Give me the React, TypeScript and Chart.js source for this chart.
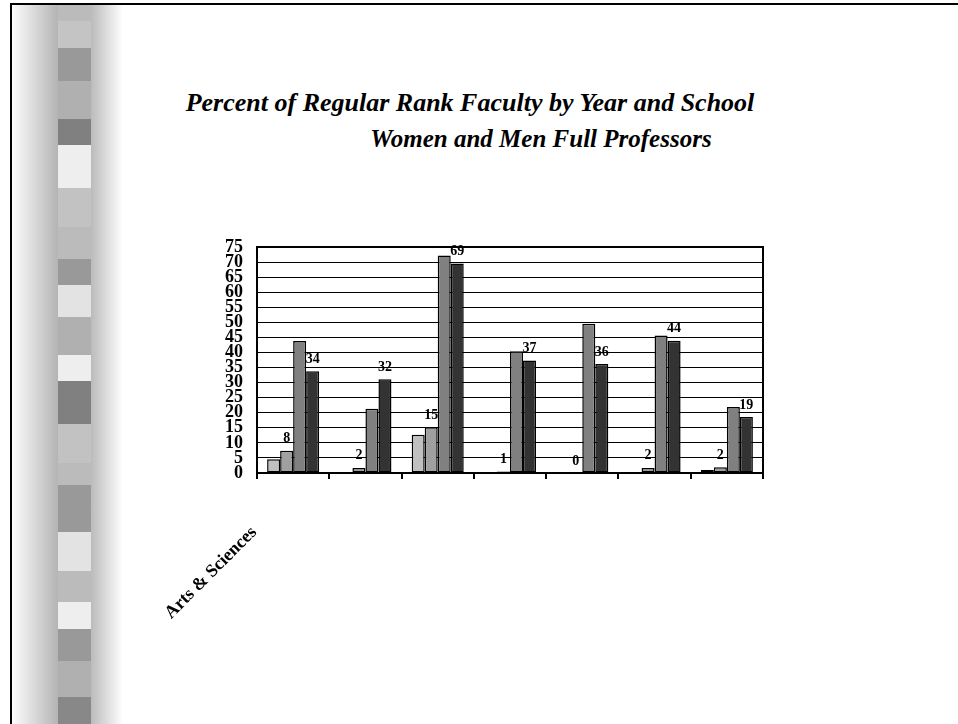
import React, { useEffect, useRef } from "react";
import { Chart, registerables } from "chart.js";

Chart.register(...registerables);

// ---- data ----
const categories = ["Arts & Sciences", "", "", "", "", "", ""];
const seriesNames = ["Series 1", "Series 2", "Series 3", "Series 4"];
const series1 = [4.6, 0, 12.7, 0, 0, 0, 1.0];
const series2 = [7.4, 1.7, 15.2, 0.5, 0, 1.7, 1.9];
const series3 = [43.8, 21.3, 72.2, 40.4, 49.5, 45.6, 21.9];
const series4 = [33.8, 31.1, 69.5, 37.3, 36.2, 43.9, 18.6];
const series2Labels = ["8", "2", "15", "1", "0", "2", "2"];
const series4Labels = ["34", "32", "69", "37", "36", "44", "19"];
const yMin = 0;
const yMax = 75;
const yStep = 5;

const titleText = "Percent of Regular Rank Faculty by Year and School";
const subtitleText = "Women and Men Full Professors";

// ---- decoration (left stripe blocks) ----
const stripeBlocks: [number, number, string][] = [
  [21, 48, "#c4c4c4"],
  [48, 81, "#999999"],
  [81, 119, "#b0b0b0"],
  [119, 145, "#808080"],
  [145, 188, "#eeeeee"],
  [188, 227, "#c2c2c2"],
  [227, 259, "#bbbbbb"],
  [259, 285, "#999999"],
  [285, 317, "#e3e3e3"],
  [317, 355, "#b0b0b0"],
  [355, 381, "#eeeeee"],
  [381, 424, "#808080"],
  [424, 463, "#c2c2c2"],
  [463, 485, "#bbbbbb"],
  [485, 532, "#999999"],
  [532, 571, "#e3e3e3"],
  [571, 602, "#bbbbbb"],
  [602, 629, "#eeeeee"],
  [629, 661, "#999999"],
  [661, 697, "#b0b0b0"],
  [697, 724, "#888888"],
];

const SERIF = "'Liberation Serif', 'Times New Roman', serif";

const valueLabelPlugin = {
  id: "valueLabels",
  afterDatasetsDraw(chart: any) {
    const ctx = chart.ctx;
    ctx.save();
    ctx.font = `bold 14px ${SERIF}`;
    ctx.fillStyle = "#000";
    ctx.textAlign = "center";
    ctx.textBaseline = "bottom";
    const sets: [number, string[]][] = [
      [1, series2Labels],
      [3, series4Labels],
    ];
    sets.forEach(([di, labels]) => {
      const meta = chart.getDatasetMeta(di);
      meta.data.forEach((el: any, i: number) => {
        ctx.fillText(labels[i], el.x, el.y - 5);
      });
    });
    ctx.restore();
  },
};

const plotFramePlugin = {
  id: "plotFrame",
  afterDatasetsDraw(chart: any) {
    const { ctx, chartArea } = chart;
    ctx.save();
    ctx.strokeStyle = "#000";
    ctx.lineWidth = 2;
    ctx.beginPath();
    ctx.moveTo(chartArea.left, chartArea.top);
    ctx.lineTo(chartArea.right, chartArea.top);
    ctx.lineTo(chartArea.right, chartArea.bottom);
    ctx.stroke();
    ctx.restore();
  },
};

export default function App() {
  const canvasRef = useRef<HTMLCanvasElement | null>(null);

  useEffect(() => {
    if (!canvasRef.current) return;
    const colors = ["#c0c0c0", "#a0a0a0", "#808080", "#333333"];
    const values = [series1, series2, series3, series4];
    const chart = new Chart(canvasRef.current, {
      type: "bar",
      data: {
        labels: categories,
        datasets: values.map((v, i) => ({
          label: seriesNames[i],
          data: v,
          backgroundColor: colors[i],
          borderColor: "#000",
          borderWidth: 1.5,
          borderSkipped: false,
          barPercentage: 1,
          categoryPercentage: 0.72,
        })),
      },
      options: {
        responsive: false,
        maintainAspectRatio: false,
        animation: false,
        layout: { padding: { left: 197, right: 195, top: 247, bottom: 81 } },
        plugins: {
          legend: { display: false },
          title: { display: false },
          tooltip: { enabled: false },
        },
        scales: {
          x: {
            type: "category",
            offset: true,
            grid: {
              display: true,
              offset: true,
              drawOnChartArea: false,
              drawTicks: true,
              tickLength: 6,
              color: "#000",
              lineWidth: 2,
            },
            border: { display: true, color: "#000", width: 2 },
            ticks: {
              autoSkip: false,
              maxRotation: 45,
              minRotation: 45,
              labelOffset: -39,
              padding: 43,
              color: "#000",
              font: { family: SERIF, size: 18, weight: "bold" },
            },
            afterFit: (scale: any) => {
              scale.height = 170;
            },
          },
          y: {
            min: yMin,
            max: yMax,
            grid: { color: "#000", lineWidth: 1, drawTicks: false },
            border: { display: true, color: "#000", width: 2 },
            ticks: {
              stepSize: yStep,
              autoSkip: false,
              maxTicksLimit: 30,
              padding: 14,
              color: "#000",
              font: { family: SERIF, size: 18, weight: "bold", lineHeight: 1 },
            },
            afterFit: (scale: any) => {
              scale.width = 60;
            },
          },
        },
      },
      plugins: [valueLabelPlugin, plotFramePlugin],
    });
    return () => chart.destroy();
  }, []);

  return (
    <div
      style={{
        position: "fixed",
        left: 0,
        top: 0,
        width: 958,
        height: 724,
        overflow: "hidden",
        background: "#fff",
      }}
    >
      {/* slide frame */}
      <div
        style={{
          position: "absolute",
          left: 10,
          top: 3,
          width: 1000,
          height: 800,
          borderLeft: "2px solid #000",
          borderTop: "2px solid #000",
        }}
      />
      {/* stripe gradients */}
      <div
        style={{
          position: "absolute",
          left: 12,
          top: 5,
          width: 46,
          height: 719,
          background: "linear-gradient(to right, #fdfdfd, #b4b4b4)",
        }}
      />
      <div
        style={{
          position: "absolute",
          left: 58,
          top: 5,
          width: 33,
          height: 719,
          background: "#bbbbbb",
        }}
      />
      <div
        style={{
          position: "absolute",
          left: 91,
          top: 5,
          width: 32,
          height: 719,
          background: "linear-gradient(to right, #bbbbbb, #ffffff)",
        }}
      />
      {stripeBlocks.map(([y0, y1, c], i) => (
        <div
          key={i}
          style={{
            position: "absolute",
            left: 58,
            top: y0,
            width: 33,
            height: y1 - y0,
            background: c,
          }}
        />
      ))}
      {/* titles */}
      <div
        style={{
          position: "absolute",
          left: 170,
          width: 600,
          top: 88,
          textAlign: "center",
          fontFamily: SERIF,
          fontStyle: "italic",
          fontWeight: "bold",
          fontSize: 26,
          lineHeight: "30px",
          whiteSpace: "nowrap",
          color: "#000",
        }}
      >
        {titleText}
      </div>
      <div
        style={{
          position: "absolute",
          left: 241,
          width: 600,
          top: 124,
          textAlign: "center",
          fontFamily: SERIF,
          fontStyle: "italic",
          fontWeight: "bold",
          fontSize: 25,
          lineHeight: "30px",
          whiteSpace: "nowrap",
          color: "#000",
        }}
      >
        {subtitleText}
      </div>
      <canvas
        ref={canvasRef}
        width={958}
        height={724}
        style={{ position: "absolute", left: 0, top: 0, width: 958, height: 724 }}
      />
    </div>
  );
}
